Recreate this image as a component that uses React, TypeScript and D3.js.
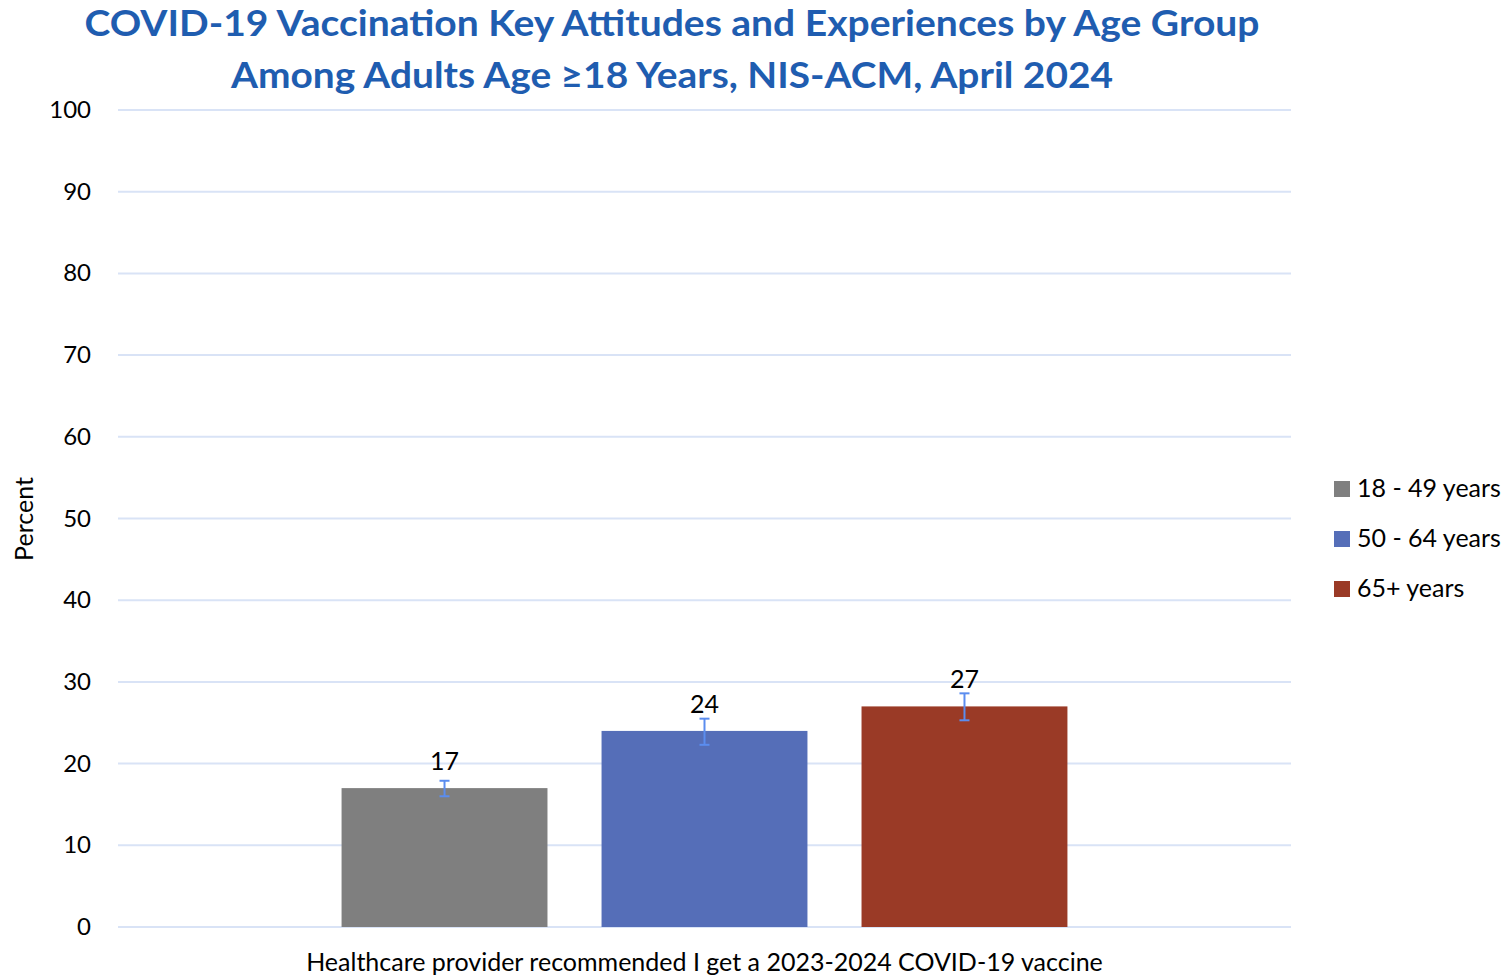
import React from "react";
import * as d3 from "d3";

const groups = ["18 - 49 years", "50 - 64 years", "65+ years"];
const values = [17, 24, 27];
const lower = [16.0, 22.3, 25.3];
const upper = [17.9, 25.5, 28.6];
const colors = ["#7F7F7F", "#556EB8", "#9A3A26"];
const category = "Healthcare provider recommended I get a 2023-2024 COVID-19 vaccine";
const yTicks = [0, 10, 20, 30, 40, 50, 60, 70, 80, 90, 100];
const titleLines = [
  "COVID-19 Vaccination Key Attitudes and Experiences by Age Group",
  "Among Adults Age \u226518 Years, NIS-ACM, April 2024",
];

const W = 1509;
const H = 978;
const FONT = "Lato, 'Open Sans', sans-serif";

export default function App() {
  const plot = { left: 118, right: 1291, top: 110, bottom: 927 };
  const y = d3.scaleLinear().domain([0, 100]).range([plot.bottom, plot.top]);
  const xCat = d3.scaleBand().domain([category]).range([plot.left, plot.right]).paddingInner(0).paddingOuter(0.308);
  const xGroup = d3.scaleBand().domain(groups).range([0, xCat.bandwidth()]).paddingInner(0.208).paddingOuter(0);
  const cx0 = xCat(category) as number;
  const cap = 5;

  return (
    <svg width={W} height={H} style={{ position: "absolute", left: 0, top: 0, background: "#fff" }}>
      <g fontFamily={FONT}>
        {titleLines.map((t, i) => (
          <text key={i} x={672} y={36 + i * 52} textAnchor="middle" fontSize={37} fontWeight="bold" fill="#1F5DB0"
            textLength={i === 0 ? 1175 : 882} lengthAdjust="spacingAndGlyphs">
            {t}
          </text>
        ))}
        {yTicks.map((t) => (
          <g key={t}>
            <line x1={plot.left} x2={plot.right} y1={y(t)} y2={y(t)} stroke="#D9E3F6" strokeWidth={2} />
            <text x={91} y={y(t) + 8} textAnchor="end" fontSize={24} fill="#000">{t}</text>
          </g>
        ))}
        <text transform={`translate(33,519) rotate(-90)`} textAnchor="middle" fontSize={25} fill="#000">Percent</text>
        {groups.map((g, i) => {
          const bx = cx0 + (xGroup(g) as number);
          const bw = xGroup.bandwidth();
          const mx = bx + bw / 2;
          return (
            <g key={g}>
              <rect x={bx} y={y(values[i])} width={bw} height={y(0) - y(values[i])} fill={colors[i]} />
              <line x1={mx} x2={mx} y1={y(upper[i])} y2={y(lower[i])} stroke="#5B8DEF" strokeWidth={2} />
              <line x1={mx - cap} x2={mx + cap} y1={y(upper[i])} y2={y(upper[i])} stroke="#5B8DEF" strokeWidth={2} />
              <line x1={mx - cap} x2={mx + cap} y1={y(lower[i])} y2={y(lower[i])} stroke="#5B8DEF" strokeWidth={2} />
              <text x={mx} y={y(values[i]) - 18} textAnchor="middle" fontSize={25} fill="#000">{values[i]}</text>
            </g>
          );
        })}
        <text x={cx0 + xCat.bandwidth() / 2} y={971} textAnchor="middle" fontSize={25} fill="#000">{category}</text>
        {groups.map((g, i) => (
          <g key={g}>
            <rect x={1334} y={481 + i * 50} width={16} height={16} fill={colors[i]} />
            <text x={1357} y={497 + i * 50} fontSize={25} fill="#000">{g}</text>
          </g>
        ))}
      </g>
    </svg>
  );
}
